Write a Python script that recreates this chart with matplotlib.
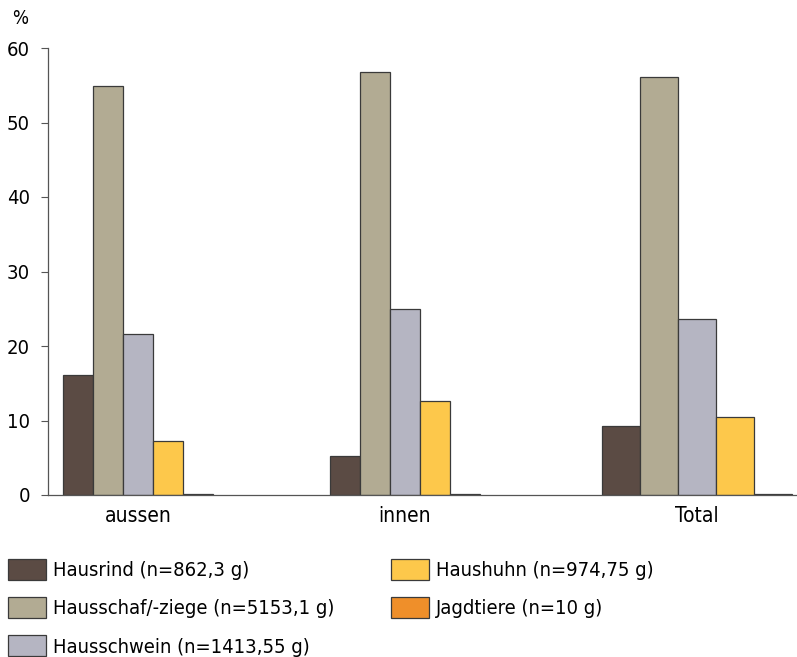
import matplotlib
matplotlib.use("Agg")
import matplotlib.pyplot as plt
import numpy as np

# data
groups = ["aussen", "innen", "Total"]
species = [
    "Hausrind (n=862,3 g)",
    "Hausschaf/-ziege (n=5153,1 g)",
    "Hausschwein (n=1413,55 g)",
    "Haushuhn (n=974,75 g)",
    "Jagdtiere (n=10 g)",
]
hausrind = [16.1, 5.2, 9.3]
hausschaf = [54.9, 56.8, 56.1]
hausschwein = [21.6, 24.9, 23.6]
haushuhn = [7.2, 12.6, 10.5]
jagdtiere = [0.1, 0.2, 0.1]
values = [hausrind, hausschaf, hausschwein, haushuhn, jagdtiere]
yticks = [0, 10, 20, 30, 40, 50, 60]

colors = ["#5b4b44", "#b2ab93", "#b5b5c2", "#fdc84b", "#ef8f2a"]

plt.rcParams["font.family"] = ["DejaVu Sans"]
plt.rcParams["font.stretch"] = "condensed"

fig = plt.figure(figsize=(7.97, 6.57), dpi=100)
ax = fig.add_axes([48 / 797, 162 / 657, 749 / 797, 447 / 657])

# group centres and bar widths (the Total group is drawn wider)
centres = np.array([0, 1, 2.094])
widths = np.array([0.112, 0.112, 0.142])

for i, (vals, col, lab) in enumerate(zip(values, colors, species)):
    x = centres + (i - 2) * widths
    ax.bar(x, vals, width=widths, color=col, edgecolor="#3a3a3a",
           linewidth=0.9, label=lab)

ax.set_xlim(-0.337, 2.468)
ax.set_ylim(0, 60)
ax.set_yticks(yticks)
ax.set_xticks(centres)
ax.set_xticklabels(groups, fontsize=15)
ax.tick_params(axis="x", length=0, pad=8)
ax.tick_params(axis="y", labelsize=14.5, length=5, width=0.8, color="#555555", pad=8)
for side in ["top", "right"]:
    ax.spines[side].set_visible(False)
for side in ["left", "bottom"]:
    ax.spines[side].set_color("#555555")
    ax.spines[side].set_linewidth(0.9)

fig.text(12 / 797, 1 - 19 / 657, "%", fontsize=13.5, va="center", ha="left")

# legend: two columns placed separately
handles, labels = ax.get_legend_handles_labels()
leg_kw = dict(loc="upper left", frameon=False, fontsize=14.5,
              handlelength=1.9, handleheight=1.2, handletextpad=0.35,
              labelspacing=0.85, borderaxespad=0.0, borderpad=0.0)
fig.legend(handles[:3], labels[:3],
           bbox_to_anchor=(8 / 797, 1 - 559 / 657), **leg_kw)
fig.legend(handles[3:], labels[3:],
           bbox_to_anchor=(391 / 797, 1 - 559 / 657), **leg_kw)

fig.savefig("out.png", dpi=100)
